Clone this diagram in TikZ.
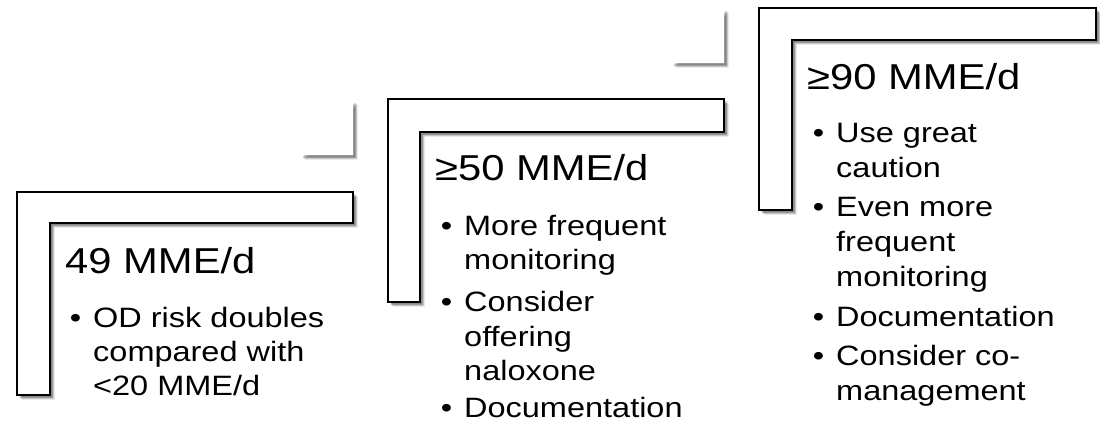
\documentclass[tikz,border=0pt]{standalone}
\usepackage{fontspec}
\setmainfont[FakeStretch=1.16]{Liberation Sans}
\usetikzlibrary{shadows}
\tikzset{
  softshadow/.style={
    general shadow={fill=black,opacity=.12,shadow xshift=4.5pt,shadow yshift=-4.5pt},
    general shadow={fill=black,opacity=.18,shadow xshift=3.5pt,shadow yshift=-3.5pt},
    general shadow={fill=black,opacity=.26,shadow xshift=2.5pt,shadow yshift=-2.5pt}},
  stepbox/.style={draw=black,line width=1.3pt,fill=white,line join=miter,softshadow},
  ghost/.style={fill=white,softshadow},
  titletext/.style={font=\fontsize{36}{40}\selectfont,anchor=base west,inner sep=0pt},
  bodytext/.style={font=\fontsize{28}{34}\selectfont,anchor=base west,inner sep=0pt},
}
\newcommand{\bul}{\llap{\textbullet\hspace{12pt}}}
\begin{document}
\begin{tikzpicture}[x=1pt,y=-1pt]
\useasboundingbox (0,0) rectangle (1100,424);
% ghost corner shapes (only their shadows show)
\path[ghost] (353,100) -- (353,155) -- (300,155) -- cycle;
\path[ghost] (724,8) -- (724,63) -- (671,63) -- cycle;
% step shapes
\path[stepbox] (17,192) -- (353,192) -- (353,223) -- (50,223) -- (50,395) -- (17,395) -- cycle;
\path[stepbox] (388,99) -- (724,99) -- (724,132) -- (420,132) -- (420,302) -- (388,302) -- cycle;
\path[stepbox] (759,8) -- (1096,8) -- (1096,40) -- (792,40) -- (792,210) -- (759,210) -- cycle;
% step 1
\node[titletext] (s1t) at (65,273) {49 MME/d};
\node[bodytext] (s1a) at (93,327) {\bul OD risk doubles};
\node[bodytext] (s1b) at (93,361) {compared with};
\node[bodytext] (s1c) at (93,395) {<20 MME/d};
% step 2
\node[titletext] (s2t) at (435,180) {≥50 MME/d};
\node[bodytext] (s2a) at (464,235) {\bul More frequent};
\node[bodytext] (s2b) at (464,269) {monitoring};
\node[bodytext] (s2c) at (464,311) {\bul Consider};
\node[bodytext] (s2d) at (464,346) {offering};
\node[bodytext] (s2e) at (464,380) {naloxone};
\node[bodytext] (s2f) at (464,417) {\bul Documentation};
% step 3
\node[titletext] (s3t) at (807,89) {≥90 MME/d};
\node[bodytext] (s3a) at (836,142) {\bul Use great};
\node[bodytext] (s3b) at (836,177) {caution};
\node[bodytext] (s3c) at (836,216) {\bul Even more};
\node[bodytext] (s3d) at (836,251) {frequent};
\node[bodytext] (s3e) at (836,286) {monitoring};
\node[bodytext] (s3f) at (836,326) {\bul Documentation};
\node[bodytext] (s3g) at (836,365) {\bul Consider co-};
\node[bodytext] (s3h) at (836,400) {management};
\end{tikzpicture}
\end{document}
